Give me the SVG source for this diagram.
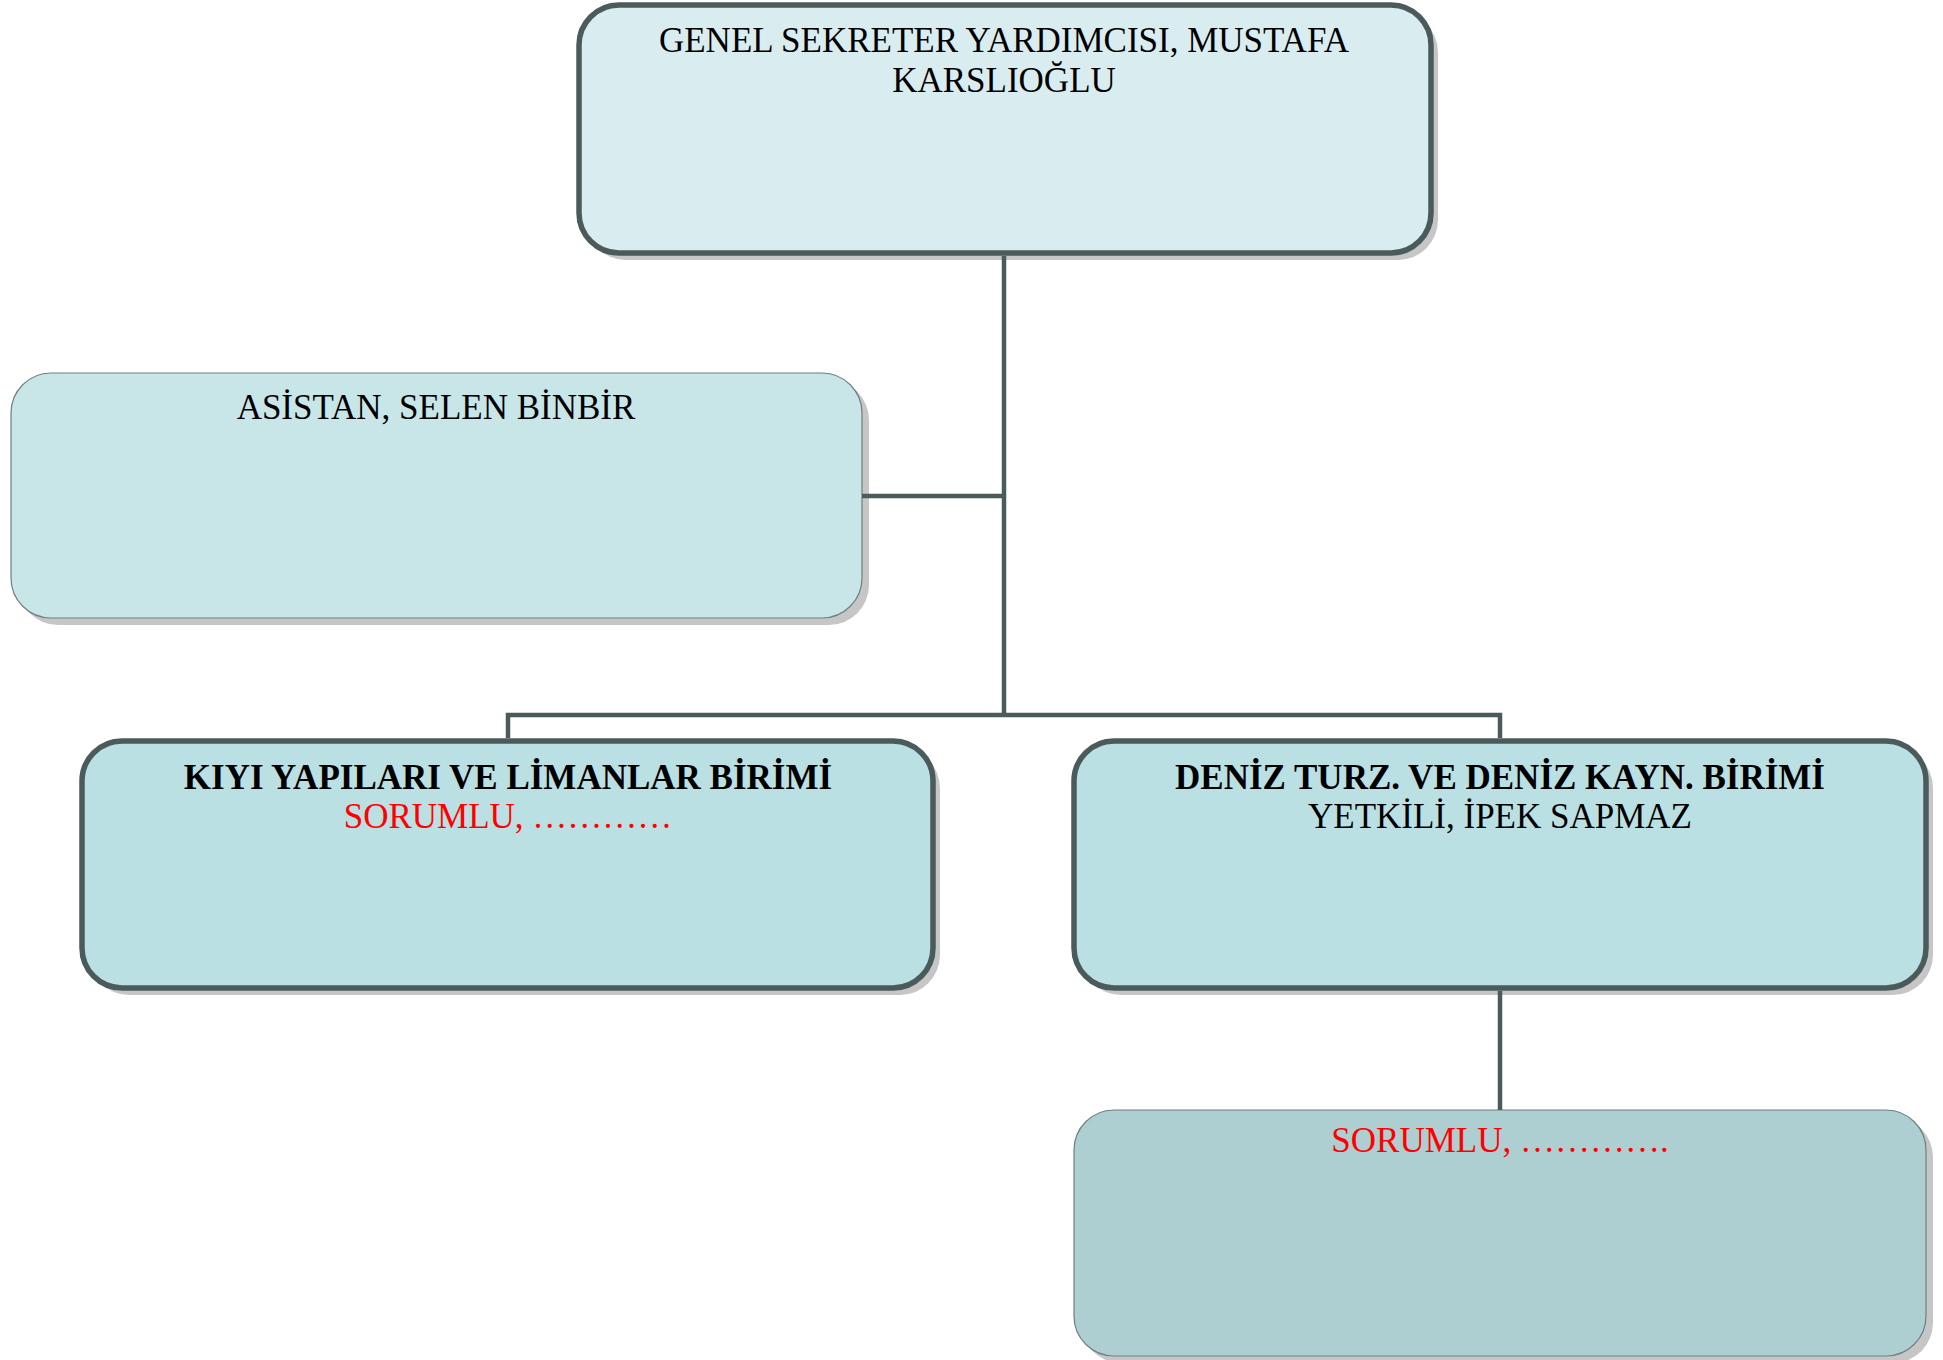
<svg xmlns="http://www.w3.org/2000/svg" width="1943" height="1360" viewBox="0 0 1943 1360">
<style>
.shadow{fill:#c6c6c6}
.thick{stroke:#4b5a5a;stroke-width:5.5}
.thin{stroke:#6f7f7f;stroke-width:1.2}
.t{font-family:"Liberation Serif","Times New Roman",serif;font-size:35px;text-anchor:middle;fill:#000}
.b{font-weight:bold}
.red{fill:#ff0000}
.conn{fill:none;stroke:#4b5a5a;stroke-width:4.5}
</style>
<rect width="1943" height="1360" fill="#ffffff"/>
<g id="node-genel">
<rect class="shadow" x="586" y="12" width="852" height="248" rx="40"/>
<rect class="thick" x="579" y="5" width="852" height="248" rx="40" fill="#d9edf0"/>
<text class="t" x="1004" y="52">GENEL SEKRETER YARDIMCISI, MUSTAFA</text>
<text class="t" x="1004" y="92">KARSLIOĞLU</text>
</g>
<g id="node-asistan">
<rect class="shadow" x="18" y="380" width="851" height="245" rx="40"/>
<rect class="thin" x="11" y="373" width="851" height="245" rx="40" fill="#c8e6e8"/>
<text class="t" x="436" y="419">ASİSTAN, SELEN BİNBİR</text>
</g>
<g id="node-kiyi">
<rect class="shadow" x="89" y="748" width="851" height="247" rx="40"/>
<rect class="thick" x="82" y="741" width="851" height="247" rx="40" fill="#bae0e3"/>
<text class="t b" x="508" y="789">KIYI YAPILARI VE LİMANLAR BİRİMİ</text>
<text class="t red" x="508" y="828">SORUMLU, …………</text>
</g>
<g id="node-deniz">
<rect class="shadow" x="1081" y="748" width="852" height="247" rx="40"/>
<rect class="thick" x="1074" y="741" width="852" height="247" rx="40" fill="#bae0e3"/>
<text class="t b" x="1500" y="789">DENİZ TURZ. VE DENİZ KAYN. BİRİMİ</text>
<text class="t" x="1500" y="828">YETKİLİ, İPEK SAPMAZ</text>
</g>
<g id="node-sorumlu">
<rect class="shadow" x="1081" y="1117" width="852" height="246" rx="40"/>
<rect class="thin" x="1074" y="1110" width="852" height="246" rx="40" fill="#aecfd2"/>
<text class="t red" x="1500" y="1152">SORUMLU, ………….</text>
</g>
<g id="connectors">
<path class="conn" d="M1004,256 V715"/>
<path class="conn" d="M862,496 H1004"/>
<path class="conn" d="M508,738 V715 H1500 V738"/>
<path class="conn" d="M1500,991 V1110"/>
</g>
</svg>
